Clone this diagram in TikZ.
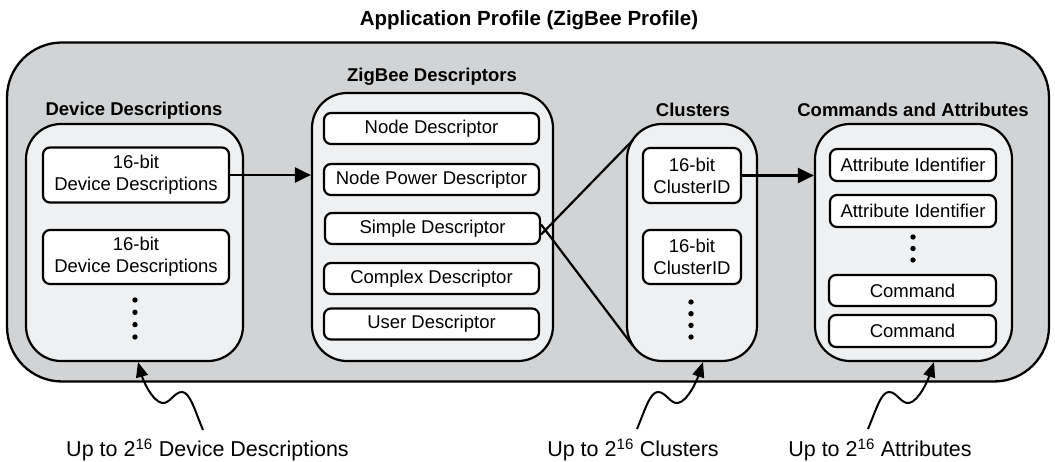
\documentclass[tikz,border=0pt]{standalone}
\usepackage{fontspec}
\setmainfont{Liberation Sans}
\usetikzlibrary{arrows.meta}
\definecolor{outerfill}{RGB}{209,211,212}
\definecolor{contfill}{RGB}{239,240,241}
\tikzset{
  outerbox/.style={draw=black, line width=2.3pt, fill=outerfill, rounded corners=55pt, inner sep=0pt},
  contbox/.style={draw=black, line width=2.2pt, fill=contfill, rounded corners=35pt, inner sep=0pt},
  itembox/.style={draw=black, line width=2.2pt, fill=white, rounded corners=7pt, inner sep=0pt, align=center,
    font=\fontsize{18.5}{22}\selectfont},
  secttitle/.style={font=\bfseries\fontsize{18.5}{22}\selectfont, inner sep=0pt},
  maintitle/.style={font=\bfseries\fontsize{20.5}{24}\selectfont, inner sep=0pt},
  note/.style={font=\fontsize{21.5}{25}\selectfont, inner sep=0pt},
  conn/.style={line width=2.2pt},
  arr/.style={line width=2.2pt, -{Triangle[length=16pt,width=15pt]}},
  squig/.style={line width=2pt, -{Triangle[length=15pt,width=12pt]}},
  dot/.style={fill=black}
}
\begin{document}
\begin{tikzpicture}[x=1pt,y=-1pt]
\useasboundingbox (0,0) rectangle (1055,462);
% title
\node[maintitle] (title) at (529,20) {Application Profile (ZigBee Profile)};
% outer box
\node[outerbox, minimum width=1042pt, minimum height=339pt] (outer) at (528,212) {};
% containers
\node[contbox, minimum width=217pt, minimum height=237pt] (dev) at (134.5,242.5) {};
\node[contbox, minimum width=241pt, minimum height=268pt] (zig) at (432.5,227) {};
\node[contbox, minimum width=130pt, minimum height=237pt] (clu) at (692,242.5) {};
\node[contbox, minimum width=197pt, minimum height=237pt] (cmd) at (913.5,242.5) {};
% section titles
\node[secttitle] (devt) at (134,111) {Device Descriptions};
\node[secttitle] (zigt) at (432,77) {ZigBee Descriptors};
\node[secttitle] (clut) at (693,110) {Clusters};
\node[secttitle] (cmdt) at (913,110) {Commands and Attributes};
% device descriptions
\node[itembox, minimum width=186pt, minimum height=55pt] (dd1) at (136,175) {16-bit\\Device Descriptions};
\node[itembox, minimum width=186pt, minimum height=54pt] (dd2) at (136,257) {16-bit\\Device Descriptions};
\foreach \y in {300,312.3,324.6,337} \fill[dot] (135,\y) circle (2.7pt);
% zigbee descriptors
\node[itembox, minimum width=215pt, minimum height=31pt] (nd) at (431.5,128.5) {Node Descriptor};
\node[itembox, minimum width=215pt, minimum height=31pt] (npd) at (431.5,179.5) {Node Power Descriptor};
\node[itembox, minimum width=215pt, minimum height=31pt] (sd) at (432.5,228.5) {Simple Descriptor};
\node[itembox, minimum width=215pt, minimum height=31pt] (cd) at (431.5,278.5) {Complex Descriptor};
\node[itembox, minimum width=215pt, minimum height=31pt] (ud) at (431.5,324) {User Descriptor};
% clusters
\node[itembox, minimum width=98pt, minimum height=55pt] (c1) at (692,175.5) {16-bit\\ClusterID};
\node[itembox, minimum width=98pt, minimum height=54pt] (c2) at (692,257) {16-bit\\ClusterID};
\foreach \y in {302,313.7,325.4,337} \fill[dot] (691,\y) circle (2.7pt);
% commands and attributes
\node[itembox, minimum width=166pt, minimum height=32pt] (ai1) at (913,165) {Attribute Identifier};
\node[itembox, minimum width=166pt, minimum height=32pt] (ai2) at (913,211) {Attribute Identifier};
\foreach \y in {237,248.5,260} \fill[dot] (913,\y) circle (2.7pt);
\node[itembox, minimum width=167pt, minimum height=31pt] (cm1) at (912.5,290.5) {Command};
\node[itembox, minimum width=167pt, minimum height=32pt] (cm2) at (912.5,331) {Command};
% connectors
\draw[arr] (dd1.east) -- (dd1.east -| zig.west);
\draw[arr] (c1.east) -- (c1.east -| cmd.west);
\coordinate (cu) at (633,140);
\coordinate (cl) at (633,346);
\draw[conn] ([yshift=-6pt]sd.east) -- (cu);
\draw[conn] ([yshift=4pt]sd.east) -- (cl);
% notes
\node[note] (n1) at (207.5,450) {Up to 2\textsuperscript{16} Device Descriptions};
\node[note] (n2) at (633,450) {Up to 2\textsuperscript{16} Clusters};
\node[note] (n3) at (880,450) {Up to 2\textsuperscript{16} Attributes};
\coordinate (s1) at (203,430);
\coordinate (s2) at (637,429);
\coordinate (s3) at (868,429);
\draw[squig] (s1) .. controls (195,411) and (190,392) .. (182,392)
  .. controls (174,392) and (170,404) .. (162,403)
  .. controls (152,401) and (143,380) .. (dev.south -| 138,0);
\draw[squig] (s2) .. controls (645,410) and (650,392) .. (658,392)
  .. controls (666,392) and (670,404) .. (678,403)
  .. controls (688,401) and (697,380) .. (clu.south -| 703,0);
\draw[squig] (s3) .. controls (876,410) and (881,392) .. (889,392)
  .. controls (897,392) and (901,404) .. (909,403)
  .. controls (919,401) and (928,380) .. (cmd.south -| 934,0);
\end{tikzpicture}
\end{document}
